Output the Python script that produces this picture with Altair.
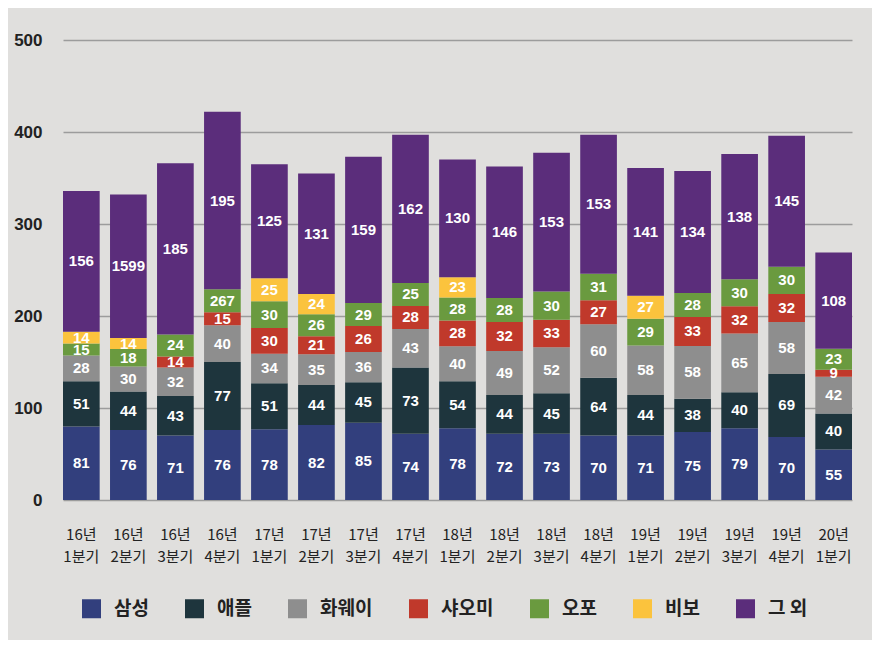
# Smartphone shipments by maker, stacked bars per quarter

import pandas as pd
import altair as alt


quarters = [
    "16년 1분기", "16년 2분기", "16년 3분기", "16년 4분기",
    "17년 1분기", "17년 2분기", "17년 3분기", "17년 4분기",
    "18년 1분기", "18년 2분기", "18년 3분기", "18년 4분기",
    "19년 1분기", "19년 2분기", "19년 3분기", "19년 4분기",
    "20년 1분기",
]

makers = ["삼성", "애플", "화웨이", "샤오미", "오포", "비보", "그 외"]
colors = ["#323f7d", "#1e353d", "#8e8e8e", "#c0392b", "#6a9a3f", "#fbc33d", "#5b2d7b"]

# segment heights as drawn
samsung_h = [80, 76, 70, 76, 77, 81.5, 84, 72, 78, 72, 72, 70, 70, 74, 78, 68.5, 55]
apple_h = [49, 42, 43, 74, 50, 43.5, 44, 72, 51, 42, 44, 63, 44, 36, 39, 68.5, 39]
huawei_h = [28, 27, 31, 40, 32, 33.5, 33, 42, 38, 48, 50, 58, 54, 57.5, 64, 56.5, 40]
xiaomi_h = [0, 0, 12, 14, 28, 19.5, 28, 25, 28, 31.5, 30, 26, 0, 31.5, 29.5, 30.5, 7.5]
oppo_h = [13, 19, 24, 25, 29, 24, 25, 25, 25, 26, 30.5, 29, 29, 26, 29.5, 29.5, 23]
vivo_h = [13, 12, 0, 0, 25, 22, 0, 0, 22, 0, 0, 0, 25, 0, 0, 0, 0]
other_h = [153, 156, 186, 193, 124, 131, 159, 161, 128, 143, 151, 151, 139, 132.5, 136, 142.5, 104.5]

# labels as printed on the segments
samsung_lbl = ["81", "76", "71", "76", "78", "82", "85", "74", "78", "72", "73", "70", "71", "75", "79", "70", "55"]
apple_lbl = ["51", "44", "43", "77", "51", "44", "45", "73", "54", "44", "45", "64", "44", "38", "40", "69", "40"]
huawei_lbl = ["28", "30", "32", "40", "34", "35", "36", "43", "40", "49", "52", "60", "58", "58", "65", "58", "42"]
xiaomi_lbl = ["", "", "14", "15", "30", "21", "26", "28", "28", "32", "33", "27", "", "33", "32", "32", "9"]
oppo_lbl = ["15", "18", "24", "267", "30", "26", "29", "25", "28", "28", "30", "31", "29", "28", "30", "30", "23"]
vivo_lbl = ["14", "14", "", "", "25", "24", "", "", "23", "", "", "", "27", "", "", "", ""]
other_lbl = ["156", "1599", "185", "195", "125", "131", "159", "162", "130", "146", "153", "153", "141", "134", "138", "145", "108"]

heights = [samsung_h, apple_h, huawei_h, xiaomi_h, oppo_h, vivo_h, other_h]
labels = [samsung_lbl, apple_lbl, huawei_lbl, xiaomi_lbl, oppo_lbl, vivo_lbl, other_lbl]

rows = []
for k, maker in enumerate(makers):
    for i, q in enumerate(quarters):
        rows.append({
            "quarter": q,
            "maker": maker,
            "order": k,
            "h": heights[k][i],
            "label": labels[k][i],
        })
df = pd.DataFrame(rows)

num_font = "Liberation Sans"
kr_font = "Noto Sans CJK KR"

base = (
    alt.Chart(df)
    .transform_filter(alt.datum.h > 0)
    .transform_stack(
        stack="h",
        as_=["y0", "y1"],
        groupby=["quarter"],
        sort=[alt.SortField("order", order="ascending")],
    )
    .transform_calculate(mid="(datum.y0 + datum.y1) / 2")
)

x_enc = alt.X(
    "quarter:N",
    sort=quarters,
    title=None,
    scale=alt.Scale(paddingInner=0.22, paddingOuter=0),
    axis=alt.Axis(
        labelAngle=0,
        labelExpr="split(datum.label, ' ')",
        labelFont=kr_font,
        labelFontSize=15,
        labelColor="#222222",
        labelLineHeight=22,
        labelPadding=27,
        domain=False,
        ticks=False,
    ),
)

bars = base.mark_bar().encode(
    x=x_enc,
    y=alt.Y(
        "y0:Q",
        title=None,
        scale=alt.Scale(domain=[0, 500], nice=False),
        axis=alt.Axis(
            values=[0, 100, 200, 300, 400, 500],
            labelFont=num_font,
            labelFontSize=17,
            labelFontWeight="bold",
            labelColor="#222222",
            labelPadding=21,
            domain=False,
            ticks=False,
            grid=True,
            gridColor="#9c9c9c",
            gridWidth=1.5,
        ),
    ),
    y2="y1:Q",
    color=alt.Color(
        "maker:N",
        sort=makers,
        scale=alt.Scale(domain=makers, range=colors),
        legend=alt.Legend(
            title=None,
            orient="none",
            direction="horizontal",
            legendX=19,
            legendY=559,
            padding=0,
            symbolType="square",
            symbolSize=361,
            symbolStrokeWidth=0,
            symbolOpacity=1,
            labelFont=kr_font,
            labelFontSize=19,
            labelFontWeight="bold",
            labelColor="#222222",
            labelOffset=13,
            columnPadding=36,
        ),
    ),
)

texts = base.transform_filter(alt.datum.label != "").mark_text(
    color="white",
    font=num_font,
    fontSize=15,
    fontWeight="bold",
    baseline="middle",
).encode(
    x=alt.X("quarter:N", sort=quarters),
    y="mid:Q",
    text="label:N",
)

chart = (
    alt.layer(bars, texts)
    .properties(
        width=789,
        height=460,
        autosize="none",
        padding={"left": 55, "top": 32, "right": 20, "bottom": 140},
        background="#e0dfdd",
    )
    .configure_view(stroke=None)
)

chart.save("out.html", embed_options={"renderer": "svg", "actions": False})
